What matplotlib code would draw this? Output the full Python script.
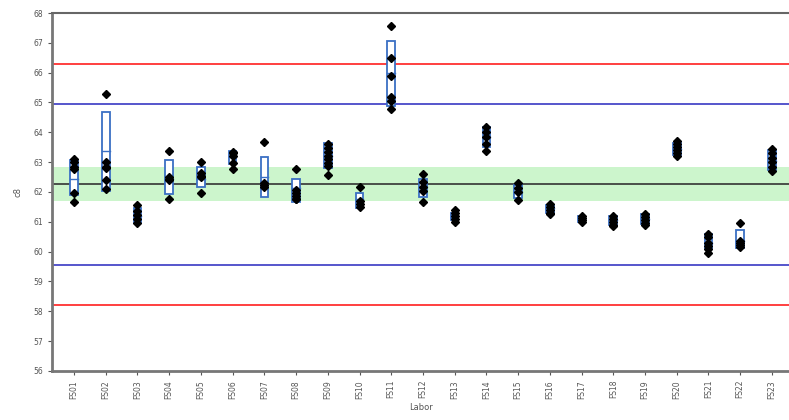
import numpy as np
import matplotlib.pyplot as plt
from matplotlib.patches import Rectangle

# Labore
labore = ['FS%02d' % i for i in range(1, 24)]

werte = [
    [63.11, 63.0, 62.83, 62.77, 61.98, 61.67],
    [65.27, 63.02, 62.85, 62.79, 62.4, 62.1],
    [61.56, 61.37, 61.23, 61.08, 60.97],
    [63.38, 62.5, 62.43, 62.4, 61.76],
    [63.0, 62.65, 62.55, 62.5, 61.98],
    [63.35, 63.3, 63.2, 62.98, 62.76],
    [63.66, 62.3, 62.22, 62.18],
    [62.76, 62.05, 61.95, 61.85, 61.78, 61.75],
    [63.6, 63.47, 63.35, 63.22, 63.1, 62.97, 62.88, 62.57],
    [62.18, 61.7, 61.6, 61.5],
    [67.57, 66.48, 65.9, 65.2, 65.06, 64.77],
    [62.6, 62.35, 62.18, 62.04, 61.67],
    [61.38, 61.28, 61.18, 61.08, 60.98],
    [64.19, 64.02, 63.85, 63.61, 63.38],
    [62.29, 62.12, 62.0, 61.73],
    [61.6, 61.5, 61.4, 61.3, 61.25],
    [61.2, 61.12, 61.05, 61.0],
    [61.2, 61.1, 61.0, 60.9, 60.85],
    [61.25, 61.15, 61.05, 60.95, 60.88],
    [63.7, 63.6, 63.5, 63.4, 63.3, 63.2],
    [60.6, 60.5, 60.3, 60.2, 60.1, 59.95],
    [60.97, 60.35, 60.3, 60.22, 60.15],
    [63.45, 63.3, 63.15, 63.0, 62.85, 62.7],
]

# Boxen: unten, Mitte, oben
box_unten = [61.9, 62.03, 61.0, 61.92, 62.18, 62.95, 61.84, 61.67, 62.79, 61.45, 64.88, 61.84,
             61.05, 63.52, 61.79, 61.3, 61.0, 60.9, 60.92, 63.25, 60.09, 60.11, 62.75]
box_mitte = [62.43, 63.37, 61.2, 62.45, 62.45, 63.16, 62.51, 62.12, 63.2, 61.75, 66.0, 62.15,
             61.18, 63.85, 62.0, 61.45, 61.1, 61.05, 61.1, 63.45, 60.3, 60.35, 63.05]
box_oben = [63.07, 64.67, 61.45, 63.07, 62.85, 63.38, 63.16, 62.45, 63.63, 61.98, 67.07, 62.44,
            61.3, 64.19, 62.23, 61.55, 61.2, 61.2, 61.25, 63.65, 60.59, 60.73, 63.4]

# Grenzen
mittel = 62.25
band = 0.57
innen = 2.7
aussen = 4.05

fig = plt.figure(figsize=(7.89, 4.2), dpi=100)
ax = fig.add_axes([0.066, 0.117, 0.934, 0.852])

x = np.arange(1, len(labore) + 1)

ax.axhspan(mittel - band, mittel + band, color='#ccf5cc', zorder=0, lw=0)
ax.axhline(mittel, color='#333333', lw=1.2, zorder=1)
ax.axhline(mittel + innen, color='#4848c8', lw=1.3, zorder=1)
ax.axhline(mittel - innen, color='#4848c8', lw=1.3, zorder=1)
ax.axhline(mittel + aussen, color='#ff3030', lw=1.3, zorder=1)
ax.axhline(mittel - aussen, color='#ff3030', lw=1.3, zorder=1)

b = 0.12
for i in range(len(labore)):
    r = Rectangle((x[i] - b, box_unten[i]), 2 * b, box_oben[i] - box_unten[i],
                  facecolor='white', edgecolor='#3a6fc4', lw=1.3, zorder=2)
    ax.add_patch(r)
    ax.plot([x[i] - b, x[i] + b], [box_mitte[i]] * 2, color='#3a6fc4', lw=1.0, zorder=2)
    ax.plot([x[i]] * len(werte[i]), werte[i], 'D', color='black', ms=3.7, zorder=3)

ax.set_xlim(0.307, 23.54)
ax.set_ylim(56, 68)
ax.set_yticks(range(56, 69))
ax.set_xticks(x)
ax.set_xticklabels(labore, rotation=90)
ax.tick_params(labelsize=5.5, colors='#555555', length=3, width=0.8)

for s in ['left', 'bottom']:
    ax.spines[s].set_color('#777777')
    ax.spines[s].set_linewidth(2)
ax.spines['top'].set_color('#666666')
ax.spines['top'].set_linewidth(1.5)
ax.spines['right'].set_visible(False)

ax.set_xlabel('Labor', fontsize=6, color='#555555', labelpad=3)
ax.set_ylabel('c8', fontsize=6, color='#555555', labelpad=8)

plt.savefig('out.png', dpi=100)
